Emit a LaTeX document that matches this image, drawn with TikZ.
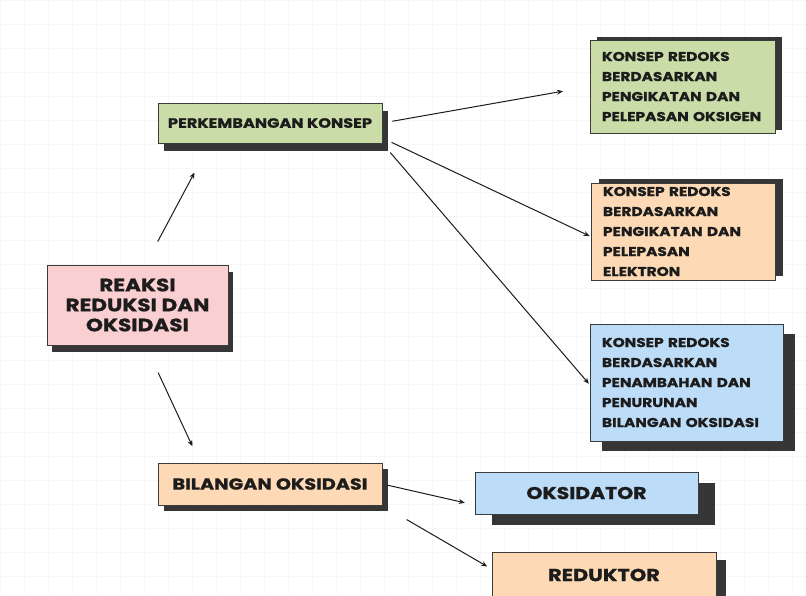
\documentclass[tikz,border=0pt]{standalone}
\usepackage{fontspec}
\setmainfont{Poppins}[BoldFeatures={FakeStretch=1.2,FakeBold=1}]
\usetikzlibrary{arrows.meta,shadows}

\definecolor{pinkbox}{HTML}{F9CFD1}
\definecolor{greenbox}{HTML}{CADDA8}
\definecolor{peachbox}{HTML}{FDDAB5}
\definecolor{bluebox}{HTML}{BDDCF8}
\definecolor{shadowgrey}{HTML}{363636}
\definecolor{edge}{HTML}{3C3C3C}
\definecolor{ink}{HTML}{1C1C1C}

\begin{document}
\begin{tikzpicture}[x=1pt,y=-1pt,
  box/.style={draw=edge, line width=0.9pt, fill=#1, text=ink, inner sep=0pt},
  dropped/.style 2 args={drop shadow={shadow xshift=#1pt, shadow yshift=#2pt, fill=shadowgrey, opacity=1}},
  konsep/.style={box=#1, align=left, inner xsep=12pt, font=\bfseries\fontsize{12.8}{20}\selectfont},
  link/.style={draw=ink, line width=1pt, -{Stealth[length=6pt,width=5pt]}}]
\fill[white] (0,0) rectangle (806,595);
\useasboundingbox (0,0) rectangle (806,595);
\draw[black!3, line width=0.5pt] (0,0) grid[step=24pt] (806,595);

% main boxes
\node[box=pinkbox, dropped={5}{-7}, minimum width=181pt, minimum height=80pt, align=center,
  font=\bfseries\fontsize{18}{20}\selectfont] (reaksi) at (137.5,305) {REAKSI\\REDUKSI DAN\\OKSIDASI};
\node[box=greenbox, dropped={6}{-8}, minimum width=224pt, minimum height=40pt,
  font=\bfseries\fontsize{13.5}{16}\selectfont] (perk) at (270,123) {PERKEMBANGAN KONSEP};
\node[box=peachbox, dropped={6}{-6}, minimum width=224pt, minimum height=42pt,
  font=\bfseries\fontsize{16}{18}\selectfont] (bil) at (270,484) {BILANGAN OKSIDASI};

% konsep redoks
\node[konsep=greenbox, dropped={7}{3}, text width=161pt, minimum height=93pt] (k1) at (682.5,86.5)
  {KONSEP REDOKS\\BERDASARKAN\\PENGIKATAN DAN\\PELEPASAN OKSIGEN};
\node[konsep=peachbox, dropped={8}{4}, text width=160pt, minimum height=97pt] (k2) at (683,231.5)
  {KONSEP REDOKS\\BERDASARKAN\\PENGIKATAN DAN\\PELEPASAN\\ELEKTRON};
\node[konsep=bluebox, dropped={12}{-10}, text width=169pt, minimum height=117pt] (k3) at (686.5,382.5)
  {KONSEP REDOKS\\BERDASARKAN\\PENAMBAHAN DAN\\PENURUNAN\\BILANGAN OKSIDASI};

% oksidator / reduktor
\node[box=bluebox, dropped={17}{-11}, minimum width=223pt, minimum height=42pt,
  font=\bfseries\fontsize{17}{20}\selectfont] (oks) at (586.5,493) {OKSIDATOR};
\node[box=peachbox, dropped={10}{-8}, minimum width=224pt, minimum height=46pt,
  font=\bfseries\fontsize{17.4}{20}\selectfont] (red) at (604,575) {REDUKTOR};

% arrows
\draw[link, shorten <=26pt, shorten >=33pt] ([xshift=8pt]reaksi.north) -- ([xshift=-60pt]perk.south);
\draw[link, shorten <=30pt, shorten >=18pt] ([xshift=8pt]reaksi.south) -- ([xshift=-70pt]bil.north);
\draw[link, shorten <=10pt, shorten >=27pt] (perk.east) -- (k1.west);
\draw[link, shorten <=10pt, shorten >=1pt] ([yshift=-15pt]perk.east) -- ([yshift=-5pt]k2.west);
\draw[link, shorten <=12pt, shorten >=1pt] (perk.south east) -- ([yshift=-2pt]k3.west);
\draw[link, shorten <=5pt, shorten >=10pt] (bil.east) -- ([yshift=-12pt]oks.west);
\draw[link, shorten <=28pt, shorten >=5pt] (bil.south east) -- ([yshift=6pt]red.west);
\end{tikzpicture}
\end{document}
